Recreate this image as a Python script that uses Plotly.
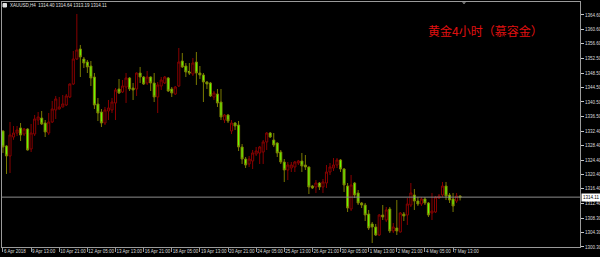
import plotly.graph_objects as go

# ---- data (XAUUSD H4) ----
opens = [1332.45,1328.29,1325.52,1330.78,1331.89,1333.28,1331.61,1333.00,1327.46,1331.61,
         1335.49,1336.05,1334.66,1331.89,1334.94,1338.27,1338.54,1339.10,1339.65,1341.87,
         1345.47,1352.40,1355.18,1352.40,1351.57,1350.46,1347.41,1339.93,1337.71,1334.66,
         1337.99,1338.27,1340.21,1344.09,1343.26,1344.64,1347.14,1344.36,1344.09,1348.52,
         1347.41,1345.75,1347.41,1345.75,1341.87,1344.92,1345.75,1347.14,1344.09,1342.70,
         1344.92,1351.85,1350.46,1348.80,1348.25,1351.57,1348.52,1347.97,1346.03,1345.75,
         1341.87,1342.70,1340.48,1335.49,1336.88,1332.45,1334.66,1334.11,1328.01,1324.68,
         1323.30,1324.13,1326.07,1326.35,1326.62,1329.40,1331.89,1329.95,1329.12,1326.62,
         1323.85,1321.63,1322.19,1322.47,1323.57,1324.13,1323.02,1322.47,1317.20,1316.92,
         1318.03,1316.92,1318.03,1321.08,1322.19,1323.02,1324.41,1321.91,1317.20,1310.82,
         1318.03,1315.26,1312.49,1311.93,1309.44,1306.67,1305.83,1303.62,1309.16,1307.77,
         1310.82,1304.73,1305.56,1304.45,1309.44,1309.16,1311.93,1314.70,1313.04,1312.21,
         1313.60,1312.49,1309.71,1309.99,1313.87,1314.70,1317.20,1314.70,1313.60,1313.04,
         1314.40]
highs = [1332.60,1328.50,1334.94,1333.83,1333.83,1334.66,1333.28,1333.20,1334.39,1336.88,
         1337.71,1337.99,1335.49,1337.43,1340.76,1342.15,1341.87,1342.42,1342.70,1345.60,
         1354.62,1364.88,1356.29,1352.96,1352.13,1351.85,1348.52,1341.59,1338.54,1339.10,
         1341.04,1341.59,1344.36,1346.86,1346.58,1348.52,1347.41,1345.75,1348.70,1350.19,
         1347.69,1349.08,1347.60,1348.52,1346.03,1347.41,1347.69,1347.41,1344.64,1344.92,
         1355.45,1354.07,1351.29,1351.29,1352.68,1354.34,1350.46,1348.52,1346.31,1346.03,
         1343.53,1344.09,1344.09,1337.16,1337.16,1335.49,1334.94,1335.22,1328.84,1325.24,
         1325.52,1327.18,1328.01,1328.29,1329.95,1332.17,1332.17,1331.89,1329.30,1327.18,
         1324.68,1323.85,1323.85,1324.13,1324.41,1326.35,1325.79,1322.60,1317.48,1318.86,
         1318.31,1319.14,1323.02,1323.57,1324.96,1324.96,1324.68,1322.19,1318.03,1320.25,
         1318.31,1316.09,1312.76,1312.49,1310.55,1307.22,1306.67,1309.44,1311.93,1311.38,
         1311.38,1306.94,1313.32,1309.99,1309.99,1313.87,1318.03,1316.37,1314.15,1314.15,
         1314.15,1312.76,1315.26,1314.43,1314.98,1318.31,1318.31,1315.26,1315.26,1315.26,
         1314.64]
lows = [1326.35,1320.53,1320.80,1330.00,1331.06,1329.67,1331.06,1327.00,1326.62,1331.06,
        1334.11,1334.11,1330.78,1331.34,1334.66,1335.77,1338.40,1339.00,1339.38,1341.59,
        1345.20,1352.13,1347.41,1349.91,1348.52,1344.92,1338.54,1335.22,1333.55,1334.11,
        1335.49,1337.43,1335.49,1342.70,1342.98,1340.21,1343.53,1341.04,1342.15,1345.75,
        1345.20,1345.20,1343.53,1340.48,1337.43,1343.81,1345.47,1343.26,1341.87,1342.42,
        1344.64,1349.91,1347.41,1347.97,1347.69,1345.20,1346.86,1340.48,1344.09,1341.87,
        1341.04,1339.10,1335.49,1334.66,1334.66,1331.61,1332.72,1326.90,1323.30,1322.19,
        1322.47,1321.91,1325.52,1323.30,1323.30,1327.18,1330.50,1328.01,1325.24,1323.30,
        1318.31,1318.86,1321.08,1321.08,1323.02,1321.08,1321.63,1314.98,1316.37,1315.26,
        1316.09,1315.26,1316.64,1320.25,1321.36,1322.19,1321.08,1315.54,1309.99,1310.27,
        1313.87,1311.93,1311.10,1307.50,1305.00,1301.40,1303.34,1303.34,1307.77,1307.22,
        1304.17,1304.17,1303.62,1304.30,1307.50,1306.39,1311.38,1310.55,1311.66,1311.66,
        1311.93,1308.61,1307.77,1309.71,1313.60,1314.15,1313.32,1312.49,1309.99,1312.49,
        1313.19]
closes = [1328.01,1325.52,1331.34,1331.89,1332.72,1331.34,1333.00,1327.18,1331.89,1335.77,
          1336.33,1334.39,1332.17,1334.94,1338.54,1341.32,1339.10,1339.93,1342.15,1345.47,
          1352.40,1354.90,1352.96,1351.29,1350.19,1347.14,1339.65,1337.43,1334.66,1338.27,
          1338.82,1340.48,1343.81,1342.98,1344.92,1347.14,1344.09,1343.81,1348.52,1347.41,
          1345.47,1347.41,1345.75,1341.87,1345.20,1346.58,1347.41,1343.53,1342.98,1344.64,
          1351.57,1350.19,1348.80,1348.52,1351.29,1348.52,1347.97,1346.03,1345.47,1342.15,
          1342.98,1340.21,1336.33,1336.88,1335.22,1334.66,1333.83,1328.01,1324.68,1323.02,
          1324.68,1326.35,1326.90,1328.01,1329.40,1331.89,1330.78,1328.56,1326.35,1323.85,
          1321.63,1323.02,1323.02,1323.85,1324.13,1322.74,1322.47,1316.92,1316.64,1318.03,
          1316.92,1318.31,1321.08,1322.47,1323.02,1324.41,1321.91,1317.48,1311.10,1317.48,
          1314.70,1312.49,1311.93,1309.16,1305.56,1305.83,1303.62,1309.16,1308.61,1310.55,
          1304.73,1305.83,1304.73,1309.71,1308.88,1312.21,1315.26,1313.04,1312.21,1313.60,
          1312.49,1309.16,1310.27,1314.15,1314.43,1317.20,1314.43,1313.32,1311.66,1314.43,
          1314.11]

time_labels = ["6 Apr 2018", "9 Apr 13:00", "10 Apr 21:00", "12 Apr 05:00", "13 Apr 13:00",
               "16 Apr 21:00", "18 Apr 05:00", "19 Apr 13:00", "20 Apr 21:00", "24 Apr 05:00",
               "25 Apr 13:00", "26 Apr 21:00", "30 Apr 05:00", "1 May 13:00", "2 May 21:00",
               "4 May 05:00", "7 May 13:00"]
bars_per_label = 8
price_ticks = [1300.30, 1304.30, 1308.30, 1312.40, 1316.40, 1320.40, 1324.40, 1328.40, 1332.40,
               1336.50, 1340.50, 1344.50, 1348.50, 1352.50, 1356.60, 1360.60, 1364.60]
symbol = "XAUUSD,H4"
last_price = closes[-1]
title_cn = "黄金4小时（慕容金）"

idx = list(range(len(closes)))

W, H = 600, 257
ML, MR, MT, MB = 2, 20, 2, 10
PW = W - ML - MR
PH = H - MT - MB

def px_x(p):
    return (p - ML) / PW

def px_y(p):
    return (H - MB - p) / PH

fig = go.Figure()
fig.add_trace(go.Candlestick(
    x=idx, open=opens, high=highs, low=lows, close=closes,
    increasing=dict(line=dict(color="#880000", width=1), fillcolor="#000000"),
    decreasing=dict(line=dict(color="#7a7a00", width=1), fillcolor="#66ff00"),
    whiskerwidth=0, hoverinfo="skip", showlegend=False,
))
# bright bodies for bearish candles
bx, bbase, bh = [], [], []
for i, o, c in zip(idx, opens, closes):
    if c < o:
        bx.append(i); bbase.append(c); bh.append(o - c)
fig.add_trace(go.Bar(x=bx, y=bh, base=bbase, width=0.62,
                     marker=dict(color="#66ff00", line=dict(width=0)),
                     hoverinfo="skip", showlegend=False))

fig.update_layout(
    width=W, height=H,
    margin=dict(l=ML, r=MR, t=MT, b=MB, autoexpand=False),
    paper_bgcolor="#000000", plot_bgcolor="#000000",
    boxgap=0.3, boxgroupgap=0.15, bargap=0,
    showlegend=False,
    font=dict(family="Liberation Sans", size=4.5, color="#d8d8d8"),
    xaxis=dict(
        range=[-0.28, 164.1], rangeslider=dict(visible=False),
        tickvals=[k * bars_per_label for k in range(len(time_labels))],
        ticktext=time_labels, tickangle=0, automargin=False,
        ticks="outside", ticklen=4, tickcolor="#9a9a9a", tickwidth=1,
        ticklabelposition="outside right",
        showgrid=False, zeroline=False,
        showline=True, linecolor="#9a9a9a", linewidth=1, mirror=True,
        tickfont=dict(size=4.5, color="#dcdcdc"),
    ),
    yaxis=dict(
        side="right", range=[1300.29, 1368.20], automargin=False,
        tickvals=price_ticks, ticktext=["%.2f" % v for v in price_ticks],
        ticks="outside", ticklen=3, tickcolor="#c8c8c8", tickwidth=1,
        showgrid=False, zeroline=False,
        showline=True, linecolor="#9a9a9a", linewidth=1, mirror=True,
        tickfont=dict(size=4.5, color="#dcdcdc"),
    ),
)

# current price line
fig.add_shape(type="line", xref="paper", x0=0, x1=1, yref="y", y0=last_price, y1=last_price,
              line=dict(color="#8c8c8c", width=1))
fig.add_annotation(xref="paper", x=1.0, xanchor="left", yref="y", y=last_price,
                   text="%.2f" % last_price, showarrow=False, bgcolor="#ffffff",
                   font=dict(size=4.5, color="#000000", family="Liberation Sans"),
                   borderpad=1, xshift=1)

# header text
header = "%s  %.2f %.2f %.2f %.2f" % (symbol, opens[-1], highs[-1], lows[-1], closes[-1])
fig.add_annotation(xref="paper", yref="paper", x=px_x(8), y=px_y(5), xanchor="left",
                   yanchor="middle", text=header, showarrow=False,
                   font=dict(size=4.5, color="#e0e0e0", family="Liberation Sans"))
fig.add_shape(type="rect", xref="paper", yref="paper", x0=px_x(3), x1=px_x(6.5),
              y0=px_y(7), y1=px_y(3.5), line=dict(color="#e0e0e0", width=1),
              fillcolor="#e0e0e0")

# chart-shift marker
fig.add_shape(type="path", xref="paper", yref="paper",
              path="M %f,%f L %f,%f L %f,%f Z" % (px_x(462.5), px_y(2.5), px_x(465.5), px_y(2.5),
                                                   px_x(464), px_y(4)),
              line=dict(color="#8a8a8a", width=0.5), fillcolor="#8a8a8a")

# red Chinese title
fig.add_annotation(xref="paper", yref="paper", x=px_x(485), y=px_y(30),
                   xanchor="center", yanchor="middle", text=title_cn, showarrow=False,
                   font=dict(size=12, color="#e01010", family="Noto Sans CJK SC"))

fig.write_html("out.html")
